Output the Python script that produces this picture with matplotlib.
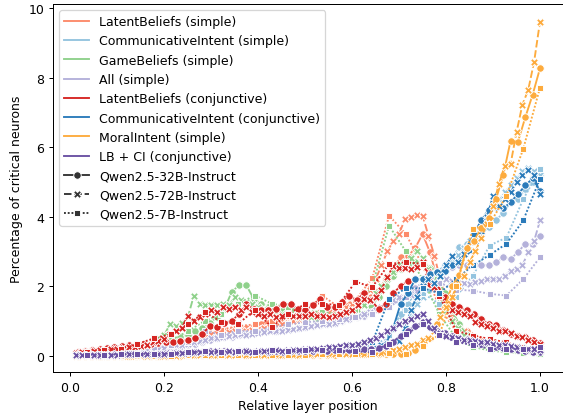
# coding: utf-8
import numpy as np
import matplotlib
matplotlib.use('Agg')
import matplotlib.pyplot as plt
from matplotlib.lines import Line2D

# models: name, number of layers, marker, dash pattern
model_names = ['Qwen2.5-32B-Instruct', 'Qwen2.5-72B-Instruct', 'Qwen2.5-7B-Instruct']
model_layers = [64, 80, 28]
model_markers = ['o', 'X', (4, 0, 45)]
model_dashes = [None, (4, 1.5), (1, 1)]

categories = ['LatentBeliefs (simple)', 'CommunicativeIntent (simple)', 'GameBeliefs (simple)',
              'All (simple)', 'LatentBeliefs (conjunctive)', 'CommunicativeIntent (conjunctive)',
              'MoralIntent (simple)', 'LB + CI (conjunctive)']
category_colors = ['#fc8a6a', '#94c4df', '#8fd18b', '#b4b1da',
                   '#d62623', '#2b7bba', '#fdab3d', '#6a51a3']

# percentage of critical neurons per layer
lb_simple_32b = [0.05, 0.08, 0.10, 0.12, 0.15, 0.15, 0.18, 0.20,
                 0.20, 0.22, 0.25, 0.25, 0.30, 0.30, 0.35, 0.40,
                 0.45, 0.55, 0.65, 0.62, 0.70, 0.75, 0.80, 0.80,
                 0.85, 0.90, 0.95, 1.00, 1.00, 1.05, 1.10, 1.15,
                 1.20, 1.25, 1.30, 1.30, 1.40, 1.45, 1.50, 1.55,
                 1.70, 1.90, 2.20, 2.50, 2.83, 2.86, 3.10, 3.50,
                 2.98, 2.20, 1.50, 1.10, 0.85, 0.70, 0.55, 0.45,
                 0.40, 0.30, 0.28, 0.25, 0.20, 0.18, 0.15, 0.15]
lb_simple_72b = [0.05, 0.05, 0.08, 0.10, 0.10, 0.12, 0.12, 0.15, 0.15, 0.18,
                 0.20, 0.20, 0.22, 0.25, 0.28, 0.30, 0.32, 0.35, 0.40, 0.45,
                 0.50, 0.55, 0.60, 0.62, 0.65, 0.70, 0.68, 0.72, 0.75, 0.70,
                 0.75, 0.78, 0.80, 0.82, 0.85, 0.90, 0.95, 1.00, 1.05, 1.10,
                 1.15, 1.20, 1.20, 1.25, 1.30, 1.35, 1.40, 1.50, 1.60, 1.70,
                 1.90, 2.20, 2.60, 3.00, 3.30, 3.50, 3.94, 4.00, 4.05, 4.03,
                 3.45, 2.88, 2.20, 1.60, 1.20, 0.90, 0.70, 0.60, 0.50, 0.45,
                 0.40, 0.35, 0.30, 0.28, 0.25, 0.22, 0.20, 0.18, 0.15, 0.15]
lb_simple_7b = [0.05, 0.10, 0.15, 0.20, 0.25, 0.30, 0.40, 0.55, 0.75, 0.85, 0.90, 1.00, 1.15, 1.25,
                1.73, 1.40, 1.60, 2.23, 4.03, 3.50, 2.60, 1.40, 0.70, 0.45, 0.30, 0.25, 0.20, 0.15]

ci_simple_32b = [0.02, 0.02, 0.02, 0.02, 0.03, 0.03, 0.03, 0.03,
                 0.03, 0.04, 0.04, 0.04, 0.04, 0.05, 0.05, 0.05,
                 0.05, 0.05, 0.06, 0.06, 0.06, 0.06, 0.07, 0.07,
                 0.07, 0.08, 0.08, 0.08, 0.08, 0.09, 0.09, 0.10,
                 0.10, 0.10, 0.10, 0.10, 0.12, 0.12, 0.12, 0.12,
                 0.15, 0.25, 0.40, 0.80, 1.20, 1.50, 1.80, 2.00,
                 2.20, 2.40, 2.60, 2.80, 3.12, 3.20, 3.30, 3.50,
                 3.70, 3.90, 4.10, 4.43, 4.50, 4.80, 5.00, 5.20]
ci_simple_72b = [0.02, 0.02, 0.02, 0.02, 0.02, 0.03, 0.03, 0.03, 0.03, 0.03,
                 0.03, 0.04, 0.04, 0.04, 0.04, 0.04, 0.05, 0.05, 0.05, 0.05,
                 0.05, 0.05, 0.06, 0.06, 0.06, 0.06, 0.06, 0.07, 0.07, 0.07,
                 0.07, 0.08, 0.08, 0.08, 0.08, 0.08, 0.09, 0.09, 0.09, 0.10,
                 0.10, 0.10, 0.10, 0.10, 0.10, 0.10, 0.10, 0.12, 0.12, 0.15,
                 0.20, 0.25, 0.30, 0.35, 0.38, 0.45, 0.70, 1.10, 1.50, 1.70,
                 1.90, 2.10, 2.30, 2.50, 2.70, 2.90, 3.10, 3.30, 3.50, 3.70,
                 4.00, 4.30, 4.50, 4.70, 4.90, 5.10, 5.30, 5.40, 5.30, 5.20]
ci_simple_7b = [0.02, 0.03, 0.03, 0.04, 0.04, 0.05, 0.05, 0.06, 0.06, 0.07, 0.07, 0.08, 0.08, 0.09,
                0.10, 0.10, 0.12, 0.20, 0.60, 1.30, 1.80, 1.49, 1.70, 2.30, 3.17, 3.40, 4.50, 5.37]

gb_simple_32b = [0.05, 0.05, 0.08, 0.10, 0.10, 0.12, 0.15, 0.15,
                 0.18, 0.20, 0.25, 0.30, 0.35, 0.45, 0.55, 0.60,
                 0.70, 0.80, 0.95, 1.10, 1.35, 1.84, 2.02, 2.02,
                 1.63, 1.50, 1.40, 1.35, 1.30, 1.30, 1.25, 1.20,
                 1.15, 1.10, 1.05, 1.00, 1.00, 1.05, 1.10, 1.20,
                 1.40, 1.70, 2.00, 2.30, 2.50, 2.60, 2.70, 2.75,
                 2.52, 2.20, 1.80, 1.30, 0.90, 0.60, 0.45, 0.35,
                 0.30, 0.25, 0.20, 0.18, 0.15, 0.12, 0.10, 0.10]
gb_simple_72b = [0.05, 0.05, 0.08, 0.10, 0.10, 0.12, 0.12, 0.15, 0.18, 0.20,
                 0.25, 0.30, 0.35, 0.40, 0.50, 0.60, 0.91, 0.85, 0.95, 1.10,
                 1.71, 1.49, 1.45, 1.45, 1.45, 1.50, 1.45, 1.68, 1.60, 1.55,
                 1.50, 1.40, 1.35, 1.30, 1.25, 1.20, 1.20, 1.15, 1.10, 1.10,
                 1.10, 1.05, 1.00, 1.00, 1.00, 1.05, 1.10, 1.20, 1.30, 1.45,
                 1.60, 1.80, 2.00, 2.20, 2.40, 2.60, 2.70, 2.80, 3.02, 2.80,
                 2.50, 2.10, 1.70, 1.30, 1.00, 0.80, 0.60, 0.50, 0.40, 0.35,
                 0.30, 0.25, 0.22, 0.20, 0.18, 0.15, 0.15, 0.12, 0.10, 0.10]
gb_simple_7b = [0.05, 0.08, 0.12, 0.18, 0.30, 0.45, 0.70, 1.00, 1.20, 1.50, 1.73, 1.50, 1.40, 1.30,
                1.25, 1.20, 1.30, 2.00, 3.74, 3.00, 2.20, 1.20, 0.50, 0.25, 0.15, 0.10, 0.08, 0.05]

all_simple_32b = [0.02, 0.03, 0.03, 0.04, 0.05, 0.05, 0.05, 0.06,
                  0.07, 0.08, 0.10, 0.12, 0.15, 0.20, 0.25, 0.30,
                  0.35, 0.40, 0.45, 0.50, 0.55, 0.55, 0.60, 0.62,
                  0.65, 0.68, 0.70, 0.72, 0.75, 0.78, 0.80, 0.82,
                  0.85, 0.88, 0.90, 0.95, 1.00, 1.05, 1.10, 1.15,
                  1.25, 1.35, 1.50, 1.60, 1.66, 1.80, 1.95, 2.10,
                  2.25, 2.40, 2.50, 2.55, 2.60, 2.60, 2.61, 2.61,
                  2.61, 2.69, 2.83, 2.78, 2.98, 3.22, 3.20, 3.45]
all_simple_72b = [0.02, 0.02, 0.03, 0.03, 0.04, 0.05, 0.05, 0.05, 0.06, 0.07,
                  0.08, 0.10, 0.12, 0.15, 0.20, 0.22, 0.25, 0.30, 0.32, 0.35,
                  0.40, 0.42, 0.45, 0.50, 0.52, 0.55, 0.58, 0.60, 0.62, 0.60,
                  0.62, 0.65, 0.68, 0.70, 0.70, 0.72, 0.75, 0.78, 0.80, 0.82,
                  0.85, 0.88, 0.90, 0.92, 0.95, 1.00, 1.05, 1.10, 1.15, 1.20,
                  1.25, 1.30, 1.40, 1.50, 1.60, 1.70, 1.68, 1.75, 1.85, 1.95,
                  2.05, 2.10, 2.15, 2.20, 2.15, 2.10, 2.10, 2.05, 2.11, 2.15,
                  2.20, 2.20, 2.20, 2.30, 2.45, 2.50, 2.60, 2.98, 3.30, 3.89]
all_simple_7b = [0.02, 0.05, 0.08, 0.10, 0.20, 0.30, 0.38, 0.72, 0.60, 0.72, 0.70, 0.82, 0.90, 0.96,
                 1.00, 1.05, 1.10, 1.20, 1.40, 1.70, 2.00, 2.10, 1.90, 1.87, 1.78, 1.73, 2.20, 2.83]

lb_conj_32b = [0.10, 0.12, 0.15, 0.19, 0.22, 0.26, 0.28, 0.32,
               0.32, 0.33, 0.35, 0.36, 0.38, 0.40, 0.41, 0.45,
               0.50, 0.62, 0.86, 0.82, 0.95, 1.00, 1.20, 1.49,
               1.34, 1.30, 1.30, 1.35, 1.49, 1.49, 1.34, 1.32,
               1.45, 1.63, 1.39, 1.40, 1.55, 1.73, 1.60, 1.80,
               1.60, 1.34, 1.50, 1.80, 2.00, 2.15, 2.20, 2.20,
               2.05, 1.92, 1.70, 1.50, 1.39, 1.30, 1.20, 1.05,
               0.91, 0.88, 0.75, 0.62, 0.58, 0.53, 0.45, 0.36]
lb_conj_72b = [0.08, 0.10, 0.10, 0.12, 0.15, 0.15, 0.18, 0.20, 0.22, 0.25,
               0.25, 0.28, 0.30, 0.38, 0.42, 0.48, 0.62, 0.70, 0.80, 1.15,
               1.00, 1.10, 1.20, 1.30, 1.25, 1.39, 1.35, 1.39, 1.30, 1.39,
               1.25, 1.20, 1.15, 1.20, 1.10, 1.15, 1.20, 1.15, 1.15, 1.15,
               1.20, 1.15, 1.15, 1.10, 1.15, 1.20, 1.25, 1.30, 1.45, 1.63,
               1.60, 1.70, 1.90, 2.26, 2.59, 2.52, 2.52, 2.50, 2.55, 2.69,
               2.40, 1.97, 1.75, 1.50, 1.30, 1.25, 1.20, 1.15, 0.96, 0.90,
               0.85, 0.80, 0.72, 0.70, 0.65, 0.58, 0.55, 0.45, 0.38, 0.35]
lb_conj_7b = [0.10, 0.15, 0.20, 0.34, 0.50, 0.62, 0.90, 1.25, 0.98, 0.91, 1.32, 0.82, 1.20, 1.49,
              1.50, 1.45, 2.13, 1.97, 2.64, 2.69, 2.64, 1.73, 0.72, 0.58, 0.48, 0.38, 0.24, 0.19]

ci_conj_32b = [0.02, 0.02, 0.02, 0.02, 0.03, 0.03, 0.03, 0.03,
               0.03, 0.03, 0.04, 0.04, 0.04, 0.05, 0.05, 0.05,
               0.05, 0.05, 0.06, 0.06, 0.06, 0.07, 0.07, 0.08,
               0.08, 0.08, 0.09, 0.09, 0.10, 0.10, 0.10, 0.10,
               0.10, 0.10, 0.10, 0.12, 0.12, 0.12, 0.15, 0.15,
               0.20, 0.25, 0.34, 0.80, 1.49, 1.80, 2.20, 2.20,
               2.35, 2.40, 2.45, 2.60, 2.70, 3.10, 3.50, 3.90,
               4.20, 4.27, 4.24, 4.42, 4.65, 4.90, 5.10, 4.75]
ci_conj_72b = [0.02, 0.02, 0.02, 0.02, 0.02, 0.02, 0.03, 0.03, 0.03, 0.03,
               0.03, 0.03, 0.04, 0.04, 0.04, 0.04, 0.05, 0.05, 0.05, 0.05,
               0.05, 0.06, 0.06, 0.06, 0.06, 0.06, 0.07, 0.07, 0.07, 0.07,
               0.08, 0.08, 0.08, 0.08, 0.08, 0.09, 0.09, 0.09, 0.10, 0.10,
               0.10, 0.10, 0.10, 0.10, 0.10, 0.10, 0.10, 0.10, 0.12, 0.15,
               0.20, 0.25, 0.30, 0.35, 0.40, 0.43, 0.80, 1.30, 1.70, 2.00,
               2.20, 2.10, 2.30, 2.60, 2.88, 2.70, 2.93, 3.00, 3.30, 3.60,
               4.00, 4.60, 4.30, 4.50, 4.70, 5.00, 5.20, 5.33, 5.20, 4.65]
ci_conj_7b = [0.02, 0.02, 0.03, 0.03, 0.03, 0.04, 0.04, 0.05, 0.05, 0.05, 0.06, 0.06, 0.07, 0.07,
              0.08, 0.08, 0.10, 0.38, 1.63, 1.94, 1.94, 1.80, 2.20, 2.60, 2.90, 3.22, 3.89, 5.09]

mi_simple_32b = [0.00, 0.00, 0.00, 0.00, 0.00, 0.00, 0.00, 0.00,
                 0.00, 0.00, 0.00, 0.00, 0.00, 0.00, 0.00, 0.01,
                 0.01, 0.01, 0.01, 0.01, 0.01, 0.01, 0.01, 0.01,
                 0.01, 0.02, 0.02, 0.02, 0.02, 0.02, 0.02, 0.03,
                 0.03, 0.03, 0.03, 0.03, 0.04, 0.04, 0.04, 0.05,
                 0.05, 0.05, 0.05, 0.05, 0.05, 0.08, 0.15, 0.30,
                 0.50, 0.90, 1.40, 2.00, 2.33, 3.10, 3.30, 3.67,
                 3.95, 4.50, 5.20, 6.19, 6.16, 6.86, 7.51, 8.27]
mi_simple_72b = [0.00, 0.00, 0.00, 0.00, 0.00, 0.00, 0.00, 0.00, 0.00, 0.00,
                 0.00, 0.00, 0.00, 0.00, 0.00, 0.00, 0.00, 0.00, 0.01, 0.01,
                 0.01, 0.01, 0.01, 0.01, 0.01, 0.01, 0.01, 0.01, 0.02, 0.02,
                 0.02, 0.02, 0.02, 0.02, 0.02, 0.03, 0.03, 0.03, 0.03, 0.03,
                 0.04, 0.04, 0.04, 0.04, 0.05, 0.05, 0.05, 0.05, 0.05, 0.05,
                 0.06, 0.06, 0.08, 0.10, 0.15, 0.20, 0.25, 0.30, 0.35, 0.45,
                 0.50, 0.70, 1.10, 1.40, 1.70, 2.00, 2.30, 2.70, 3.00, 3.40,
                 3.80, 4.30, 4.94, 5.47, 5.52, 6.43, 7.22, 7.65, 8.46, 9.61]
mi_simple_7b = [0.00, 0.00, 0.00, 0.00, 0.00, 0.00, 0.01, 0.01, 0.01, 0.02, 0.02, 0.02, 0.03, 0.03,
                0.04, 0.05, 0.05, 0.05, 0.08, 0.05, 0.29, 0.60, 2.00, 3.65, 3.80, 4.60, 5.95, 7.71]

lbci_conj_32b = [0.02, 0.02, 0.03, 0.03, 0.03, 0.04, 0.04, 0.05,
                 0.05, 0.05, 0.06, 0.06, 0.07, 0.08, 0.08, 0.10,
                 0.10, 0.10, 0.12, 0.10, 0.12, 0.10, 0.12, 0.12,
                 0.10, 0.12, 0.10, 0.12, 0.10, 0.12, 0.12, 0.12,
                 0.12, 0.15, 0.12, 0.15, 0.15, 0.15, 0.18, 0.20,
                 0.19, 0.22, 0.29, 0.40, 0.58, 0.72, 0.86, 0.96,
                 0.83, 0.72, 0.65, 0.58, 0.50, 0.48, 0.39, 0.35,
                 0.30, 0.25, 0.22, 0.20, 0.15, 0.12, 0.10, 0.10]
lbci_conj_72b = [0.01, 0.01, 0.02, 0.02, 0.02, 0.03, 0.03, 0.03, 0.04, 0.04,
                 0.04, 0.05, 0.05, 0.05, 0.06, 0.06, 0.07, 0.07, 0.08, 0.08,
                 0.10, 0.10, 0.10, 0.10, 0.12, 0.10, 0.12, 0.10, 0.12, 0.12,
                 0.10, 0.12, 0.12, 0.12, 0.15, 0.12, 0.15, 0.15, 0.15, 0.18,
                 0.20, 0.20, 0.22, 0.25, 0.25, 0.28, 0.30, 0.32, 0.35, 0.40,
                 0.45, 0.50, 0.60, 0.70, 0.80, 0.90, 1.00, 1.05, 1.15, 1.20,
                 1.00, 0.80, 0.65, 0.58, 0.55, 0.50, 0.45, 0.45, 0.42, 0.40,
                 0.38, 0.35, 0.32, 0.30, 0.28, 0.25, 0.22, 0.20, 0.18, 0.15]
lbci_conj_7b = [0.03, 0.03, 0.04, 0.05, 0.05, 0.06, 0.10, 0.12, 0.10, 0.12, 0.10, 0.15, 0.12, 0.15,
                0.15, 0.15, 0.12, 0.10, 0.35, 0.62, 0.90, 0.60, 0.40, 0.30, 0.20, 0.20, 0.20, 0.25]

series = [
    [lb_simple_32b, lb_simple_72b, lb_simple_7b],
    [ci_simple_32b, ci_simple_72b, ci_simple_7b],
    [gb_simple_32b, gb_simple_72b, gb_simple_7b],
    [all_simple_32b, all_simple_72b, all_simple_7b],
    [lb_conj_32b, lb_conj_72b, lb_conj_7b],
    [ci_conj_32b, ci_conj_72b, ci_conj_7b],
    [mi_simple_32b, mi_simple_72b, mi_simple_7b],
    [lbci_conj_32b, lbci_conj_72b, lbci_conj_7b],
]

mydpi = 90
fig = plt.figure(figsize=(563 / mydpi, 414 / mydpi), dpi=mydpi)
ax = fig.add_axes([53 / 563, 41 / 414, 510 / 563, 368 / 414])

for cat_vals, color in zip(series, category_colors):
    for vals, n, marker, dash in zip(cat_vals, model_layers, model_markers, model_dashes):
        # relative layer position = layer index / number of layers
        x = np.arange(1, n + 1) / n
        kw = dict(color=color, lw=1.5, marker=marker, ms=6, mec='w', mew=0.75)
        if dash is None:
            ax.plot(x, vals, ls='-', **kw)
        else:
            ax.plot(x, vals, dashes=dash, **kw)

ax.set_xlim(-0.037, 1.049)
ax.set_ylim(-0.47, 10.12)
ax.set_xticks([0.0, 0.2, 0.4, 0.6, 0.8, 1.0])
ax.set_yticks([0, 2, 4, 6, 8, 10])
ax.set_xlabel('Relative layer position')
ax.set_ylabel('Percentage of critical neurons')

handles = [Line2D([], [], color=c, lw=1.5) for c in category_colors]
for marker, dash in zip(model_markers, model_dashes):
    if dash is None:
        h = Line2D([], [], color='.2', lw=1.5, ls='-', marker=marker, ms=6, mec='w', mew=0.75)
    else:
        h = Line2D([], [], color='.2', lw=1.5, dashes=dash, marker=marker, ms=6, mec='w', mew=0.75)
    handles.append(h)
ax.legend(handles, categories + model_names, loc='upper left')

fig.savefig('out.png', dpi=mydpi)
